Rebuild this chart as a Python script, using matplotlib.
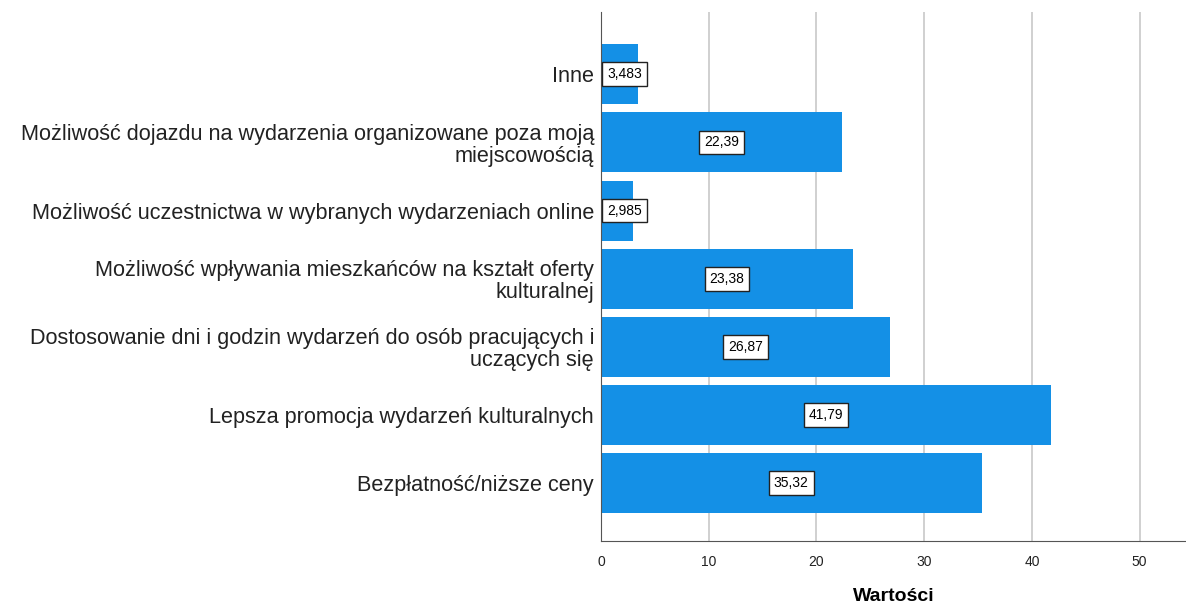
import matplotlib.pyplot as plt

plt.rcParams['font.family'] = ['Liberation Sans', 'DejaVu Sans']

categories = [
    'Bezpłatność/niższe ceny',
    'Lepsza promocja wydarzeń kulturalnych',
    'Dostosowanie dni i godzin wydarzeń do osób pracujących i\nuczących się',
    'Możliwość wpływania mieszkańców na kształt oferty\nkulturalnej',
    'Możliwość uczestnictwa w wybranych wydarzeniach online',
    'Możliwość dojazdu na wydarzenia organizowane poza moją\nmiejscowością',
    'Inne',
]
values = [35.32, 41.79, 26.87, 23.38, 2.985, 22.39, 3.483]
value_labels = ['35,32', '41,79', '26,87', '23,38', '2,985', '22,39', '3,483']

fig = plt.figure(figsize=(11.86, 6.10), dpi=100)
ax = fig.add_axes([0.5067, 0.113, 0.4933, 0.867])

pos = list(range(len(categories)))
ax.barh(pos, values, height=0.88, color='#1490E6', zorder=2)

# labels sit in the middle of the bar, but never past the axis line
for p, v, lab in zip(pos, values, value_labels):
    ax.text(max(v / 2, 2.2), p, lab, ha='center', va='center', fontsize=10, zorder=3,
            bbox=dict(boxstyle='square,pad=0.35', facecolor='white', edgecolor='#222222', linewidth=1.0))

ax.set_yticks(pos)
ax.set_yticklabels(categories, fontsize=15.6, ha='right', multialignment='right',
                   linespacing=1.07, color='#222222')
ax.set_xticks([0, 10, 20, 30, 40, 50])
ax.tick_params(axis='x', labelsize=10, length=0, pad=10, labelcolor='#222222')
ax.tick_params(axis='y', length=0, pad=5)
ax.set_xlim(0, 54.3)
ax.set_ylim(-0.85, 6.91)

ax.grid(axis='x', color='#c8c8c8', linewidth=1.2, zorder=0)
for s in ['top', 'right']:
    ax.spines[s].set_visible(False)
ax.spines['left'].set_color('#555555')
ax.spines['bottom'].set_color('#555555')

ax.set_xlabel('Wartości', fontsize=14, fontweight='bold', labelpad=14)

fig.savefig('out.png', dpi=100)
